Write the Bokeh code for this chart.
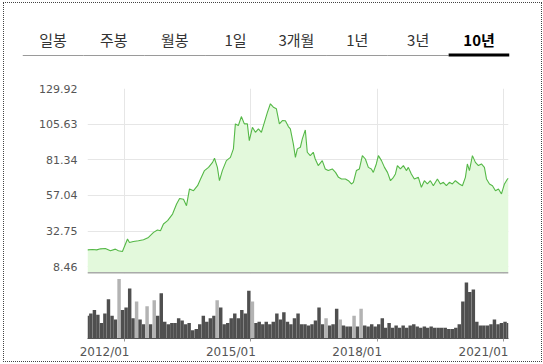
import pandas as pd
from bokeh.plotting import figure
from bokeh.models import Range1d, FixedTicker, FactorRange, DatetimeAxis, Span, InlineStyleSheet
from bokeh.layouts import column
from bokeh.embed import file_html
from bokeh.resources import INLINE
from bokeh.core.properties import value

# ---------------- data ----------------
tabs = ["일봉", "주봉", "월봉", "1일", "3개월", "1년", "3년", "10년"]
active_tab = "10년"

price_dates = [
    "2011-02-14", "2011-03-30", "2011-05-05", "2011-06-07", "2011-07-19", "2011-09-01",
    "2011-10-14", "2011-11-09", "2011-12-14", "2012-01-27", "2012-02-13", "2012-03-18",
    "2012-05-01", "2012-06-14", "2012-07-27", "2012-09-09", "2012-10-13", "2012-11-08",
    "2012-12-04", "2013-01-09", "2013-02-21", "2013-03-28", "2013-04-23", "2013-05-27",
    "2013-06-22", "2013-07-18", "2013-08-22", "2013-09-26", "2013-10-22", "2013-11-25",
    "2013-12-30", "2014-02-03", "2014-02-20", "2014-03-17", "2014-04-04", "2014-04-29",
    "2014-06-03", "2014-07-08", "2014-08-03", "2014-08-20", "2014-09-15", "2014-10-11",
    "2014-11-06", "2014-12-02", "2014-12-19", "2015-01-15", "2015-02-10", "2015-03-08",
    "2015-04-03", "2015-04-29", "2015-05-25", "2015-06-20", "2015-07-16", "2015-08-11",
    "2015-09-06", "2015-10-02", "2015-10-28", "2015-11-23", "2015-12-10", "2016-01-05",
    "2016-01-23", "2016-02-09", "2016-03-06", "2016-03-23", "2016-04-18", "2016-05-05",
    "2016-05-31", "2016-06-26", "2016-07-13", "2016-08-08", "2016-09-12", "2016-10-08",
    "2016-11-03", "2016-12-08", "2017-01-05", "2017-01-31", "2017-02-26", "2017-04-01",
    "2017-04-27", "2017-05-23", "2017-06-09", "2017-07-05", "2017-07-31", "2017-08-26",
    "2017-09-21", "2017-10-17", "2017-11-12", "2017-11-29", "2017-12-25", "2018-01-12",
    "2018-02-08", "2018-03-06", "2018-04-01", "2018-04-27", "2018-05-23", "2018-06-09",
    "2018-06-26", "2018-07-22", "2018-08-17", "2018-09-12", "2018-09-29", "2018-10-25",
    "2018-11-20", "2018-12-25", "2019-01-20", "2019-02-15", "2019-03-13", "2019-04-08",
    "2019-05-04", "2019-06-08", "2019-07-04", "2019-07-30", "2019-08-25", "2019-09-20",
    "2019-10-16", "2019-11-11", "2019-12-16", "2020-01-11", "2020-02-06", "2020-02-23",
    "2020-03-12", "2020-04-07", "2020-05-03", "2020-05-29", "2020-06-24", "2020-07-20",
    "2020-08-07", "2020-09-02", "2020-09-28", "2020-10-24", "2020-11-19", "2020-12-15",
    "2021-01-10", "2021-02-05", "2021-02-14",
]
price_values = [
    20.0, 20.3, 20.0, 20.7, 20.9, 19.4,
    20.5, 19.4, 18.9, 27.4, 25.0, 25.7,
    26.2, 26.9, 28.5, 31.9, 33.5, 33.0,
    37.6, 39.9, 44.4, 51.2, 55.0, 54.5,
    50.1, 61.5, 60.3, 63.7, 68.3, 74.0,
    76.2, 79.6, 82.4, 76.2, 67.1, 74.0,
    80.8, 83.0, 88.8, 105.8, 104.7, 110.8,
    105.8, 105.8, 94.4, 103.5, 100.1, 102.4,
    100.1, 106.9, 113.7, 119.5, 117.2, 116.1,
    105.8, 108.1, 108.0, 104.0, 102.4, 92.2,
    83.0, 88.8, 89.9, 95.6, 101.7, 86.5,
    84.2, 86.5, 81.9, 77.4, 80.8, 75.1,
    74.0, 75.1, 72.8, 69.4, 68.3, 68.3,
    67.1, 64.9, 66.0, 74.0, 75.1, 84.2,
    81.9, 76.2, 75.1, 72.8, 78.5, 84.2,
    80.8, 76.2, 72.8, 67.1, 69.4, 71.7,
    77.4, 75.1, 77.4, 74.0, 76.2, 71.7,
    68.3, 69.4, 62.6, 67.1, 64.9, 67.1,
    63.7, 68.3, 64.9, 66.0, 63.7, 66.0,
    64.9, 67.1, 64.9, 63.7, 69.4, 78.5,
    74.0, 84.2, 79.6, 77.4, 78.5, 76.2,
    68.3, 64.9, 63.7, 60.3, 61.5, 58.1,
    64.9, 68.3, 68.7,
]

y_ticks = [8.46, 32.75, 57.04, 81.34, 105.63, 129.92]
x_tick_dates = ["2012-01-01", "2015-01-01", "2018-01-01", "2021-01-01"]
x_tick_labels = ["2012/01", "2015/01", "2018/01", "2021/01"]

# monthly volume, Feb 2011 .. Feb 2021 (relative units)
volume_start = "2011-02-01"
volume = [
    19, 21, 24, 20, 13, 21, 33, 19, 16, 50, 24,          # 2011
    26, 42, 17, 31, 16, 12, 27, 12, 32, 19, 38, 14,      # 2012
    12, 13, 13, 17, 15, 12, 13, 7, 8, 12, 19, 14,        # 2013
    17, 19, 32, 26, 12, 13, 17, 21, 17, 24, 21, 40,      # 2014
    31, 13, 14, 12, 14, 12, 14, 21, 16, 22, 14, 12,      # 2015
    17, 21, 12, 12, 11, 12, 15, 26, 12, 17, 11, 12,      # 2016
    25, 16, 11, 10, 10, 19, 10, 25, 11, 10, 12, 10,      # 2017
    12, 17, 9, 13, 9, 11, 9, 11, 9, 11, 12, 10,          # 2018
    9, 10, 9, 10, 9, 9, 9, 9, 8, 8, 9, 12,               # 2019
    31, 47, 39, 41, 14, 11, 11, 11, 12, 16, 12, 13,      # 2020
    14, 13,                                              # 2021
]
volume_light_months = ["2011-11", "2012-04", "2012-07", "2012-09", "2014-03",
                       "2015-01", "2016-10", "2017-02", "2017-06", "2017-08"]

# ---------------- build ----------------
W = 537
dates = pd.to_datetime(price_dates)
x_range = Range1d(dates[0], dates[-1])
y_start = 3.9

# tabs bar
tf = figure(width=W, height=59, x_range=FactorRange(*tabs), y_range=Range1d(0, 59),
            output_backend="svg", toolbar_location=None,
            min_border_left=18, min_border_right=32, min_border_top=0, min_border_bottom=0)
normal = [t for t in tabs if t != active_tab]
tf.text(x=normal, y=[23] * len(normal), text=normal, text_align="center",
        text_baseline="middle", text_font=value("Noto Sans CJK KR"),
        text_font_size="15px", text_color="#333333")
tf.text(x=[active_tab], y=[23], text=[active_tab], text_align="center",
        text_baseline="middle", text_font=value("Noto Sans CJK KR"),
        text_font_size="15px", text_font_style="bold", text_color="#000000")
tf.rect(x=normal, y=[7] * len(normal), width=1.0, height=1, height_units="screen",
        fill_color="#9a9a9a", line_color=None)
tf.rect(x=[active_tab], y=[7.5], width=1.0, height=3, height_units="screen",
        fill_color="#000000", line_color=None)
tf.axis.visible = False
tf.grid.visible = False
tf.outline_line_color = None

# price chart
p = figure(width=W, height=212, x_axis_type="datetime", x_range=x_range,
           y_range=Range1d(y_start, y_ticks[-1]),
           output_backend="svg", toolbar_location=None,
           min_border_left=83, min_border_right=33, min_border_top=26, min_border_bottom=1)
p.varea(x=dates, y1=y_start, y2=price_values, fill_color="#e3f9dc")
p.line(x=dates, y=price_values, line_color="#55b847", line_width=1.1)
p.add_layout(Span(location=y_start, dimension="width", line_color="#aaaaaa", line_width=3))
p.xaxis.visible = False
p.outline_line_color = None
p.yaxis.ticker = FixedTicker(ticks=y_ticks)
p.yaxis.major_label_overrides = {t: f"{t:.2f}" for t in y_ticks}
p.yaxis.axis_line_color = None
p.yaxis.major_tick_line_color = None
p.yaxis.minor_tick_line_color = None
p.yaxis.major_label_standoff = 4
p.yaxis.major_label_text_font = "DejaVu Sans"
p.yaxis.major_label_text_font_size = "11px"
p.yaxis.major_label_text_color = "#555555"
tick_ms = [pd.Timestamp(d).value / 1e6 for d in x_tick_dates]
p.ygrid.ticker = FixedTicker(ticks=y_ticks)
p.xgrid.ticker = FixedTicker(ticks=tick_ms)
p.grid.grid_line_color = "#e6e6e6"

# volume chart
vol_dates = pd.date_range(volume_start, periods=len(volume), freq="MS")
vol_x = vol_dates + pd.Timedelta(days=14)
vol_colors = ["#b3b3b3" if d.strftime("%Y-%m") in volume_light_months else "#4f4f4f"
              for d in vol_dates]
v = figure(width=W, height=87, x_axis_type="datetime", x_range=x_range,
           y_range=Range1d(0, 52), output_backend="svg", toolbar_location=None,
           x_axis_location=None,
           min_border_left=83, min_border_right=33, min_border_top=2, min_border_bottom=0)
v.vbar(x=vol_x, top=volume, width=pd.Timedelta(days=30).total_seconds() * 1000,
       fill_color=vol_colors, line_color=None)
v.grid.visible = False
v.outline_line_color = None
v.yaxis.visible = False
# labels sit to the left of their tick marks in the reference
label_shift_ms = pd.Timedelta(days=173).total_seconds() * 1000
label_ms = [t - label_shift_ms for t in tick_ms]
lab_axis = DatetimeAxis(ticker=FixedTicker(ticks=label_ms, minor_ticks=tick_ms),
                        major_label_overrides={t: s for t, s in zip(label_ms, x_tick_labels)},
                        axis_line_color="#555555", major_tick_line_color=None,
                        minor_tick_line_color="#999999", minor_tick_in=0, minor_tick_out=3,
                        major_tick_in=0, major_tick_out=3,
                        major_label_standoff=3,
                        major_label_text_font="DejaVu Sans",
                        major_label_text_font_size="12px",
                        major_label_text_color="#555555")
v.add_layout(lab_axis, "below")

border_css = InlineStyleSheet(css=":host { border: 1px dotted #444444 !important; }")
root = column(column(tf), column(p, v, spacing=0), spacing=0,
              margin=(2, 0, 0, 3), stylesheets=[border_css])

open("out.html", "w").write(file_html(root, INLINE))
